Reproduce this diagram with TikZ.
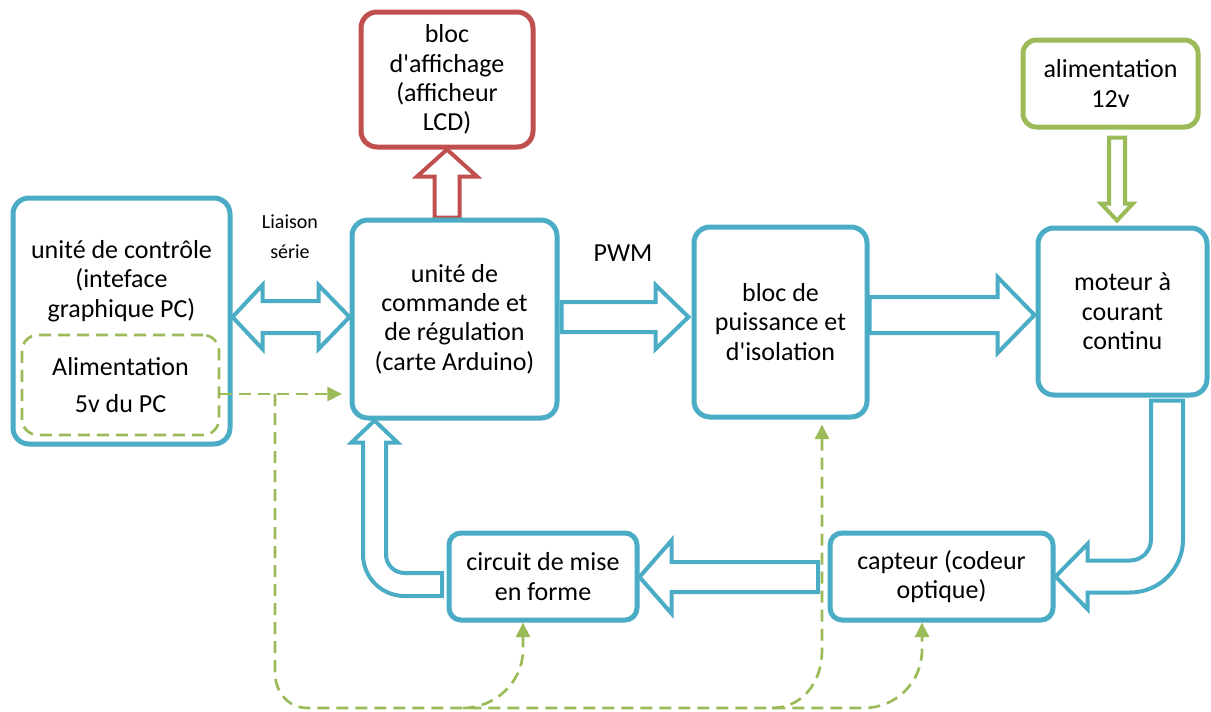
\documentclass[tikz,border=0pt]{standalone}
\usepackage{fontspec}
\setmainfont{Carlito}[Ligatures=TeXOff]
\usetikzlibrary{calc,arrows.meta,backgrounds}

\definecolor{diagblue}{HTML}{4BACC6}
\definecolor{diagred}{HTML}{C0504D}
\definecolor{diaggreen}{HTML}{9BBB59}

\newcommand\boxfont{\fontsize{19.5}{22}\selectfont}
\newcommand\supplyfont{\fontsize{19.5}{27.75}\selectfont}
\newcommand\labelfont{\fontsize{15}{22.5}\selectfont}

% straight block arrows: [style]{tail}{tip}{shaft half-width}{head half-width}{signed head length}
\newcommand\hblockarrow[6][]{%
  \path[#1] ($(#2)+(0,{-#4})$) -- ($(#3)+({-(#6)},{-#4})$) -- ($(#3)+({-(#6)},{-#5})$) -- (#3)
    -- ($(#3)+({-(#6)},#5)$) -- ($(#3)+({-(#6)},#4)$) -- ($(#2)+(0,#4)$) -- cycle;}
\newcommand\vblockarrow[6][]{%
  \path[#1] ($(#2)+({-#4},0)$) -- ($(#3)+({-#4},{-(#6)})$) -- ($(#3)+({-#5},{-(#6)})$) -- (#3)
    -- ($(#3)+(#5,{-(#6)})$) -- ($(#3)+(#4,{-(#6)})$) -- ($(#2)+(#4,0)$) -- cycle;}

\tikzset{
  boxsize/.style 2 args={minimum width=#1*0.75pt, minimum height=#2*0.75pt},
  diagblock/.style={draw=diagblue, line width=3.75pt, fill=white, rounded corners=12pt,
    align=center, font=\boxfont, inner sep=0pt},
  smallblock/.style={diagblock, rounded corners=9pt},
  redblock/.style={diagblock, draw=diagred},
  greenblock/.style={diagblock, draw=diaggreen, rounded corners=10pt},
  supplybox/.style={draw=diaggreen, line width=2pt, dash pattern=on 9pt off 5.25pt,
    rounded corners=12pt, align=center, font=\supplyfont, inner sep=0pt},
  boxtext/.style={align=center, font=\boxfont, inner sep=0pt},
  linklabel/.style={align=center, font=\labelfont, inner sep=0pt},
  bluearrow/.style={draw=diagblue, line width=3pt, fill=white},
  redarrow/.style={bluearrow, draw=diagred},
  greenarrow/.style={bluearrow, draw=diaggreen},
  supplyline/.style={draw=diaggreen, line width=2pt, dash pattern=on 9pt off 5.25pt,
    -{Triangle[length=11pt,width=10.5pt]}},
}

\begin{document}
\begin{tikzpicture}[x=0.75pt,y=-0.75pt]
\useasboundingbox (0,0) rectangle (1211,711);

% ---- blocks
\node[diagblock, boxsize={217}{246}] (A) at (121.5,321) {};
\node[boxtext] (Atext) at (121.5,281) {unité de contrôle\\(inteface\\graphique PC)};
\node[supplybox, boxsize={197}{100}] (Pw) at (120.5,385) {Alimentation\\5v du PC};
\node[diagblock, boxsize={205}{198}] (B) at (454.5,319)
  {unité de\\commande et\\de régulation\\(carte Arduino)};
\node[redblock, boxsize={172}{135}] (C) at (447,79.5) {bloc\\d'affichage\\(afficheur\\LCD)};
\node[diagblock, boxsize={173}{190}] (D) at (780.5,322) {bloc de\\puissance et\\d'isolation};
\node[diagblock, boxsize={169}{167}] (E) at (1122.5,311.5) {moteur à\\courant\\continu};
\node[greenblock, boxsize={175}{87}] (F) at (1110.5,83.5) {alimentation\\12v};
\node[smallblock, boxsize={223}{87}] (G) at (941.5,576.5) {capteur (codeur\\optique)};
\node[smallblock, boxsize={188}{87}] (H) at (543,576.5) {circuit de mise\\en forme};

% ---- link labels
\node[linklabel] (serial) at (290,237) {Liaison\\série};
\node[boxtext] (pwm) at (623,253) {PWM};

% ---- block arrows, behind the blocks
\begin{pgfonlayer}{background}
\fill[white] (0,0) rectangle (1211,711);

% serial link (both ways)
\coordinate (dL) at (A.east |- 0,317);
\coordinate (dR) at (B.west |- 0,317);
\path[bluearrow] (dL) -- ($(dL)+(30,-32)$) -- ($(dL)+(30,-16)$) -- ($(dR)+(-31,-16)$)
  -- ($(dR)+(-31,-32)$) -- (dR) -- ($(dR)+(-31,32)$) -- ($(dR)+(-31,16)$)
  -- ($(dL)+(30,16)$) -- ($(dL)+(30,32)$) -- cycle;

% command -> display
\coordinate (rT) at (C.south |- B.north);
\vblockarrow[redarrow]{rT}{C.south}{12.5}{30}{-27}

% supply 12v -> motor
\coordinate (gT) at ($(F.south)+(6.5,8)$);
\coordinate (gH) at ($(E.north -| gT)+(0,-5)$);
\vblockarrow[greenarrow]{gT}{gH}{8}{16}{17}

% PWM
\coordinate (pT) at ($(B.east |- 0,317)+(2,0)$);
\coordinate (pH) at ($(D.west |- 0,317)+(-3,0)$);
\hblockarrow[bluearrow]{pT}{pH}{15}{32}{33}

% power stage -> motor
\coordinate (mT) at (D.east |- 0,315);
\coordinate (mH) at ($(E.west |- 0,315)+(-1,0)$);
\hblockarrow[bluearrow]{mT}{mH}{18}{38}{37}

% sensor -> shaping circuit
\coordinate (sT) at ($(G.west |- 0,577)+(-9.5,0)$);
\coordinate (sH) at (H.east |- 0,577);
\hblockarrow[bluearrow]{sT}{sH}{15}{36.5}{-32}

% motor -> sensor (bent)
\coordinate (egT) at ($(E.south)+(44.5,3)$);
\coordinate (egH) at (G.east);
\coordinate (egC) at (egT |- egH);
\path[bluearrow] ($(egT)+(-16,0)$) -- ($(egC)+(-16,-37)$)
  .. controls ($(egC)+(-16,-25.4)$) and ($(egC)+(-25.4,-16)$) .. ($(egC)+(-37,-16)$)
  -- ($(egH)+(32,-16)$) -- ($(egH)+(32,-32.5)$) -- (egH) -- ($(egH)+(32,32.5)$)
  -- ($(egH)+(32,16)$) -- ($(egC)+(-37,16)$)
  .. controls ($(egC)+(-7.7,16)$) and ($(egC)+(16,-7.7)$) .. ($(egC)+(16,-37)$)
  -- ($(egT)+(16,0)$) -- cycle;

% shaping circuit -> command (bent)
\coordinate (hbT) at ($(H.west)+(-4.5,8)$);
\coordinate (hbH) at ($(B.south west)+(25,0)$);
\coordinate (hbC) at (hbH |- hbT);
\path[bluearrow] ($(hbT)+(0,-11.5)$) -- ($(hbC)+(30,-11.5)$)
  .. controls ($(hbC)+(19.8,-11.5)$) and ($(hbC)+(11.5,-19.8)$) .. ($(hbC)+(11.5,-30)$)
  -- ($(hbH)+(11.5,22)$) -- ($(hbH)+(23,22)$) -- (hbH) -- ($(hbH)+(-23,22)$)
  -- ($(hbH)+(-11.5,22)$) -- ($(hbC)+(-11.5,-30)$)
  .. controls ($(hbC)+(-11.5,-7.1)$) and ($(hbC)+(7.1,11.5)$) .. ($(hbC)+(30,11.5)$)
  -- ($(hbT)+(0,11.5)$) -- cycle;
\end{pgfonlayer}

% ---- 5v supply lines
\coordinate (p0) at ($(Pw.east)+(0,9)$);
\coordinate (p1) at ($(B.west |- p0)+(-7.5,0)$);
\coordinate (p2) at (275,394);
\draw[supplyline] (p0) -- (p1);
\draw[supplyline] (p2) -- (275,672) .. controls (275,692) and (288,708) .. (308,708)
  -- (864,708) .. controls (896,708) and (922,682) .. (922,650) -- ([xshift=-14.6pt]G.south);
\draw[supplyline] (463,708) .. controls (495,708) and (523,682) .. (523,650)
  -- ([xshift=-15pt]H.south);
\draw[supplyline] (772,708) .. controls (800,708) and (822,685) .. (822,650)
  -- ($(D.south)+(41.5,5)$);
\end{tikzpicture}
\end{document}
